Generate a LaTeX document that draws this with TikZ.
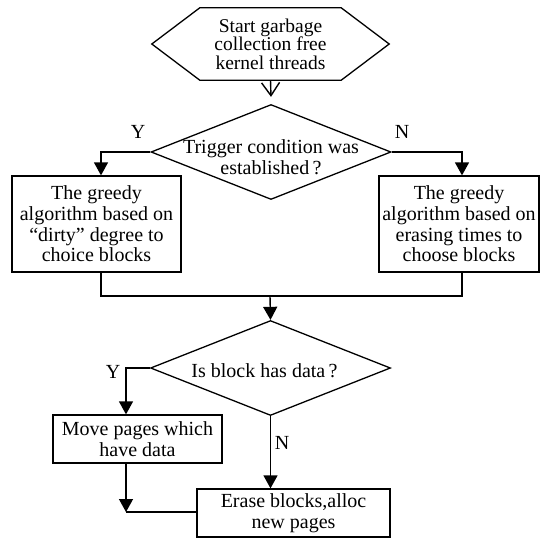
\documentclass[tikz,border=0pt]{standalone}
\usepackage{fontspec}
\setmainfont{Liberation Serif}
\newfontfamily\flowfont{Liberation Serif}
\usetikzlibrary{shapes.geometric, arrows.meta, positioning}

\begin{document}
\begin{tikzpicture} [x = 1pt, y = -1pt,
          font = \flowfont\fontsize{20}{20.7}\selectfont,
          box/.style = {draw, line width = 1.3pt, align = center, inner sep = 0pt},
          decision/.style = {diamond, draw, line width = 1.3pt,
              minimum width = 240pt, minimum height = 95pt, inner sep = 0pt
          },
          flow/.style = {line width = 1.4pt, -{Triangle[length = 13pt, width = 14pt]}},
          link/.style = {line width = 1.4pt}
          ]
          \useasboundingbox (0,0) rectangle (540,538);

          % Steps
          \node (start) [align = center, inner sep = 0pt, minimum width = 237pt, minimum height = 72pt,
              font = \flowfont\fontsize{19.5}{18.6}\selectfont] at (270.5,44) {Start garbage\\collection free\\kernel threads};
          \draw[line width = 1.3pt] (start.west) -- ([xshift = 48pt]start.north west)
              -- ([xshift = -48pt]start.north east) -- (start.east)
              -- ([xshift = -48pt]start.south east) -- ([xshift = 48pt]start.south west) -- cycle;
          \node (trig) [decision] at (271,152) {};
          \node (trigtext) [align = center, inner sep = 0pt] at ([yshift = -5pt]trig.center) {Trigger condition was\\established\,?};
          \node (dirty) [box, minimum width = 169pt, minimum height = 96pt] at (96.5,224) {The greedy\\algorithm based on\\“dirty” degree to\\choice blocks};
          \node (erasing) [box, minimum width = 160pt, minimum height = 96pt] at (459,224) {The greedy\\algorithm based on\\erasing times to\\choose blocks};
          \coordinate (join) at (270,296);
          \node (data) [decision] at (270.5,368) {};
          \node (datatext) [inner sep = 0pt] at ([xshift = -6pt, yshift = -3pt]data.center) {Is block has data\,?};
          \node (move) [box, minimum width = 169pt, minimum height = 48pt] at (137.5,439) {Move pages which\\have data};
          \node (erase) [box, minimum width = 193pt, minimum height = 48pt] at (293.5,513) {Erase blocks,alloc\\new pages};
          \coordinate (bend) at (126,512);

          % Labels
          \node (y1) at (138,132) {Y};
          \node (n1) at (402,132) {N};
          \node (y2) at (113,372) {Y};
          \node (n2) at (282,443) {N};

          % Links
          \draw[link, -{Straight Barb[length = 13pt, width = 18pt]}] (start.south) -- ([yshift = 7pt]trig.north);
          \draw[flow] (trig.west) -| ([xshift = 4.5pt]dirty.north);
          \draw[flow] (trig.east) -| ([xshift = 3pt]erasing.north);
          \draw[link] ([xshift = 4.5pt]dirty.south) |- (join) -| ([xshift = 3pt]erasing.south);
          \draw[flow] (join) -- (data.north);
          \draw[flow] (data.west) -| ([xshift = -11.5pt]move.north);
          \draw[flow] (data.south) -- (data.south |- erase.north);
          \draw[flow] ([xshift = -11.5pt]move.south) -- (bend);
          \draw[link] (bend) -- (bend -| erase.west);

        \end{tikzpicture}
\end{document}
